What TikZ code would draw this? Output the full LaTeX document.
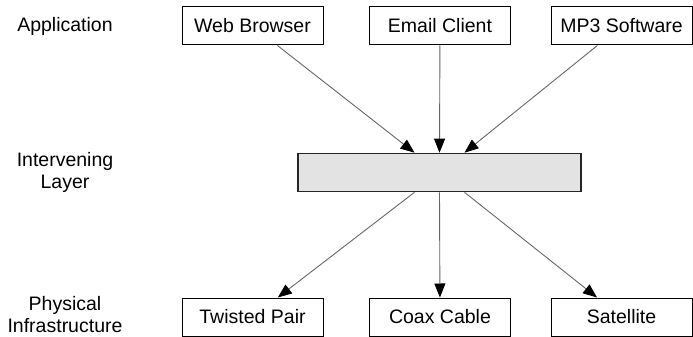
\documentclass[tikz,border=0pt]{standalone}
\usepackage{fontspec}
\setmainfont{Liberation Sans}
\usetikzlibrary{arrows.meta}
\tikzset{
  box/.style={draw=black, line width=1pt, minimum width=141pt, minimum height=38pt, inner sep=0pt},
  midbox/.style={draw=black!85, fill=black!11, line width=1.6pt, minimum width=283pt, minimum height=38pt, inner sep=0pt},
  lbl/.style={align=center, inner sep=0pt},
  link/.style={draw=black!60, line width=0.9pt, -{Triangle[length=14pt,width=11pt,color=black]}}
}
\begin{document}
\begin{tikzpicture}[x=1pt,y=-1pt, font=\fontsize{19.5}{22}\selectfont]
  \useasboundingbox (0,0) rectangle (693,337);
  % layer labels
  \node[lbl] (lapp) at (65,26) {Application};
  \node[lbl] (lint) at (65,172.5) {Intervening\\Layer};
  \node[lbl] (lphy) at (65,315) {Physical\\Infrastructure};
  % application row
  \node[box] (web) at (252.5,26) {Web Browser};
  \node[box] (mail) at (440,26) {Email Client};
  \node[box] (mp3) at (621.5,26) {MP3 Software};
  % intervening layer
  \node[midbox] (mid) at (439.5,172.5) {};
  % physical row
  \node[box] (tp) at (252.5,317) {Twisted Pair};
  \node[box] (coax) at (440,317) {Coax Cable};
  \node[box] (sat) at (621.5,317) {Satellite};
  % connectors
  \draw[link] (web) -- ([xshift=-25pt]mid.north);
  \draw[link] (mail) -- (mid.north);
  \draw[link] (mp3) -- ([xshift=25pt]mid.north);
  \draw[link] ([xshift=-25pt]mid.south) -- (tp);
  \draw[link] (mid.south) -- (coax);
  \draw[link] ([xshift=25pt]mid.south) -- (sat);
\end{tikzpicture}
\end{document}
